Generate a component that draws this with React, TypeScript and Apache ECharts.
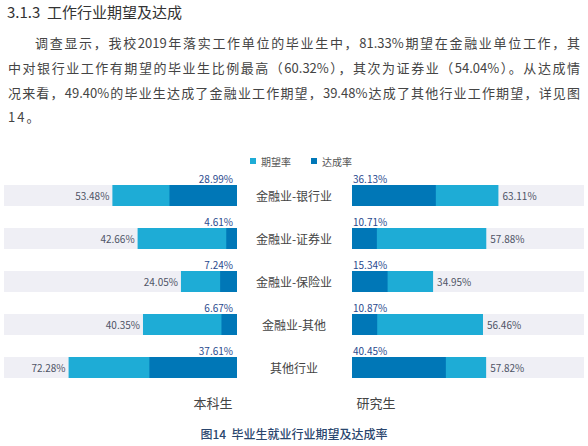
import React, { useEffect, useRef } from 'react';
import * as echarts from 'echarts';

const categories = ['金融业-银行业', '金融业-证券业', '金融业-保险业', '金融业-其他', '其他行业'];
const undergradExpect = [53.48, 42.66, 24.05, 40.35, 72.28];
const undergradReach = [28.99, 4.61, 7.24, 6.67, 37.61];
const graduateExpect = [63.11, 57.88, 34.95, 56.46, 57.82];
const graduateReach = [36.13, 10.71, 15.34, 10.87, 40.45];

const paragraphLines = [
  '调查显示，我校2019年落实工作单位的毕业生中，81.33%期望在金融业单位工作，其',
  '中对银行业工作有期望的毕业生比例最高（60.32%），其次为证券业（54.04%）。从达成情',
  '况来看，49.40%的毕业生达成了金融业工作期望，39.48%达成了其他行业工作期望，详见图',
  '14。',
];

const LIGHT = '#1EACD6';
const DARK = '#0077B7';
const FONT = '"Noto Sans CJK SC", "Noto Sans", sans-serif';

const pct = (p: any) => `${Number(p.value).toFixed(2)}%`;

const App: React.FC = () => {
  const chartRef = useRef<HTMLDivElement>(null);

  // eslint-disable-next-line consistent-return
  useEffect(() => {
    if (chartRef.current) {
      const lightLabel = {
        show: true,
        fontSize: 10,
        color: '#4E5466',
        fontFamily: FONT,
        formatter: pct,
      };
      const darkLabel = {
        show: true,
        fontSize: 10,
        color: '#2A4A8E',
        fontFamily: FONT,
        verticalAlign: 'bottom',
        formatter: pct,
      };

      const options: any = {
        animation: false,
        textStyle: { fontFamily: FONT },
        legend: {
          left: 245,
          top: 151,
          itemWidth: 6,
          itemHeight: 6,
          itemGap: 20,
          icon: 'rect',
          textStyle: { fontSize: 10, color: '#555' },
          data: ['期望率', '达成率'],
        },
        grid: [
          { left: 4, width: 233, top: 174, height: 215 },
          { left: 352, width: 232, top: 174, height: 215 },
        ],
        xAxis: [
          { type: 'value', gridIndex: 0, min: 0, max: 100, inverse: true, show: false },
          { type: 'value', gridIndex: 1, min: 0, max: 100, show: false },
        ],
        yAxis: [
          {
            type: 'category',
            gridIndex: 0,
            data: categories,
            inverse: true,
            position: 'right',
            axisLine: { show: false },
            axisTick: { show: false },
            axisLabel: {
              margin: 57,
              align: 'center',
              fontSize: 12,
              color: '#444',
              padding: [4, 0, 0, 0],
            },
          },
          {
            type: 'category',
            gridIndex: 1,
            data: categories,
            inverse: true,
            show: false,
          },
        ],
        series: [
          {
            name: '期望率',
            type: 'bar',
            xAxisIndex: 0,
            yAxisIndex: 0,
            barWidth: 21,
            showBackground: true,
            backgroundStyle: { color: '#EFEFF5' },
            itemStyle: { color: LIGHT },
            label: { ...lightLabel, position: 'left', distance: 3 },
            data: undergradExpect,
          },
          {
            name: '达成率',
            type: 'bar',
            xAxisIndex: 0,
            yAxisIndex: 0,
            barWidth: 21,
            barGap: '-100%',
            itemStyle: { color: DARK },
            label: { ...darkLabel, position: ['100%', 0], align: 'right', offset: [-4, -2] },
            data: undergradReach,
          },
          {
            name: '期望率',
            type: 'bar',
            xAxisIndex: 1,
            yAxisIndex: 1,
            barWidth: 21,
            showBackground: true,
            backgroundStyle: { color: '#EFEFF5' },
            itemStyle: { color: LIGHT },
            label: { ...lightLabel, position: 'right', distance: 4 },
            data: graduateExpect,
          },
          {
            name: '达成率',
            type: 'bar',
            xAxisIndex: 1,
            yAxisIndex: 1,
            barWidth: 21,
            barGap: '-100%',
            itemStyle: { color: DARK },
            label: { ...darkLabel, position: [0, 0], align: 'left', offset: [1, -2] },
            data: graduateReach,
          },
        ],
        graphic: [
          {
            type: 'text',
            left: 7,
            top: 4,
            style: { text: '3.1.3  工作行业期望及达成', fontSize: 15, fill: '#333', fontFamily: FONT },
          },
          {
            type: 'text',
            x: 213,
            y: 402,
            style: { text: '本科生', fontSize: 13, fill: '#444', align: 'center', verticalAlign: 'middle', fontFamily: FONT },
          },
          {
            type: 'text',
            x: 376,
            y: 402,
            style: { text: '研究生', fontSize: 13, fill: '#444', align: 'center', verticalAlign: 'middle', fontFamily: FONT },
          },
          {
            type: 'text',
            x: 294,
            y: 433,
            style: {
              text: '图14  毕业生就业行业期望及达成率',
              fontSize: 12,
              fontWeight: 500,
              fill: '#2A466E',
              align: 'center',
              verticalAlign: 'middle',
              fontFamily: FONT,
            },
          },
        ],
      };

      const chart = echarts.init(chartRef.current, undefined, { renderer: 'svg' });
      chart.setOption(options);

      return () => {
        chart.dispose();
      };
    }
  }, []);

  const lineBox = (i: number): React.CSSProperties => ({
    position: 'absolute',
    left: i === 0 ? 35 : 8,
    top: [33, 58, 83, 107][i],
    width: i === 0 ? 545 : 572,
    height: 20,
    lineHeight: '20px',
    fontSize: 13,
    color: '#444',
    fontFamily: FONT,
    whiteSpace: 'nowrap',
    textAlign: i === 3 ? 'left' : 'justify',
    textAlignLast: i === 3 ? 'left' : 'justify',
    letterSpacing: i === 3 ? 2 : 0,
  });

  return (
    <div style={{ position: 'absolute', left: 0, top: 0, width: 588, height: 446, background: '#fff' }}>
      <div ref={chartRef} style={{ position: 'absolute', left: 0, top: 0, width: 588, height: 446 }} />
      {paragraphLines.map((t, i) => (
        <div key={i} style={lineBox(i)}>
          {t}
        </div>
      ))}
    </div>
  );
};

export default App;
